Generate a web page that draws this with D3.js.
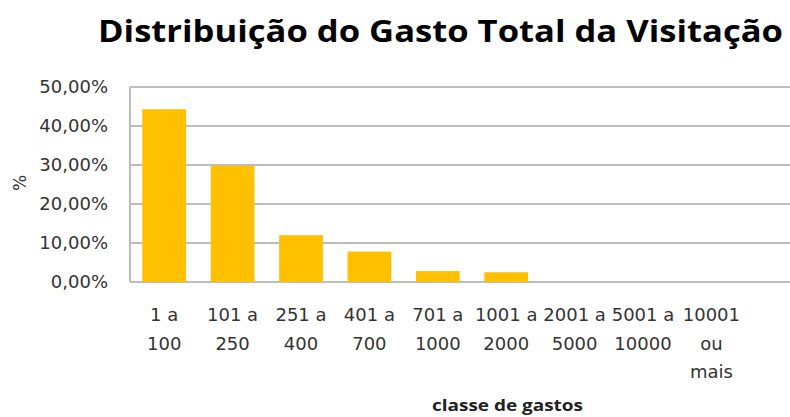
<!DOCTYPE html>
<html>
<head>
<meta charset="utf-8">
<script src="https://cdn.jsdelivr.net/npm/d3@7"></script>
<style>
body { margin: 0; background: #fff; }
svg { display: block; }
</style>
</head>
<body>
<div id="chart"></div>
<script>
// classes de gasto (one entry per line of the label)
var categories = [
	["1 a", "100"],
	["101 a", "250"],
	["251 a", "400"],
	["401 a", "700"],
	["701 a", "1000"],
	["1001 a", "2000"],
	["2001 a", "5000"],
	["5001 a", "10000"],
	["10001", "ou", "mais"]
];
// % da visitação por classe
var values = [44.3, 29.8, 12.0, 7.8, 2.8, 2.5, 0, 0, 0];
var yTicks = [0, 10, 20, 30, 40, 50];

var width = 790, height = 417;
var plotLeft = 130, plotRight = 790, bandRight = 745.6;
var plotTop = 87, plotBottom = 282;

var svg = d3.select("#chart").append("svg")
		.attr("width", width).attr("height", height);

var x = d3.scaleBand().domain(d3.range(categories.length))
		.range([ plotLeft, bandRight ]).paddingInner(0.36).paddingOuter(0.18);
var y = d3.scaleLinear().domain([ 0, 50 ]).range([ plotBottom, plotTop ]);

var fmt = function(d) {
	return d3.format(".2f")(d).replace(".", ",") + "%";
};

// gridlines
svg.append("g").selectAll("line").data(yTicks).enter().append("line")
		.attr("x1", plotLeft).attr("x2", plotRight)
		.attr("y1", function(d) { return y(d); })
		.attr("y2", function(d) { return y(d); })
		.attr("stroke", "#bdbdbd").attr("stroke-width", 2);
svg.append("line").attr("x1", plotLeft).attr("x2", plotLeft)
		.attr("y1", y(50)).attr("y2", y(0))
		.attr("stroke", "#bdbdbd").attr("stroke-width", 2);

// y axis labels
var yAxis = d3.axisLeft(y).tickValues(yTicks).tickFormat(fmt)
		.tickSize(0).tickPadding(22);
var yg = svg.append("g").attr("transform", "translate(" + plotLeft + ",0)")
		.call(yAxis);
yg.select(".domain").remove();
yg.selectAll("text").attr("font-family", "DejaVu Sans")
		.attr("font-size", 18).attr("fill", "#333");

// bars
svg.append("g").selectAll("rect").data(values).enter().append("rect")
		.attr("x", function(d, i) { return x(i); })
		.attr("y", function(d) { return y(d); })
		.attr("width", x.bandwidth())
		.attr("height", function(d) { return y(0) - y(d); })
		.attr("fill", "#ffc000");

// category labels, wrapped
var labels = svg.append("g").selectAll("text").data(categories).enter()
		.append("text")
		.attr("text-anchor", "middle")
		.attr("font-family", "DejaVu Sans").attr("font-size", 18)
		.attr("fill", "#333");
labels.selectAll("tspan").data(function(d, i) {
	return d.map(function(s) { return { s: s, i: i }; });
}).enter().append("tspan")
		.attr("x", function(d) { return x(d.i) + x.bandwidth() / 2; })
		.attr("y", function(d, j) { return 321 + j * 28.5; })
		.text(function(d) { return d.s; });

// title
svg.append("text").attr("x", 98).attr("y", 42)
		.attr("font-family", "Open Sans").attr("font-weight", "bold")
		.attr("font-size", 31).attr("fill", "#000")
		.attr("textLength", 685).attr("lengthAdjust", "spacingAndGlyphs")
		.text("Distribuição do Gasto Total da Visitação");

// axis titles
svg.append("text").attr("transform", "translate(26,183) rotate(-90)")
		.attr("text-anchor", "middle")
		.attr("font-family", "DejaVu Sans").attr("font-size", 17)
		.attr("fill", "#333").text("%");
svg.append("text").attr("x", 432).attr("y", 411)
		.attr("font-family", "Open Sans").attr("font-weight", "bold")
		.attr("font-size", 16).attr("fill", "#222")
		.attr("textLength", 151).attr("lengthAdjust", "spacingAndGlyphs")
		.text("classe  de gastos");
</script>
</body>
</html>
